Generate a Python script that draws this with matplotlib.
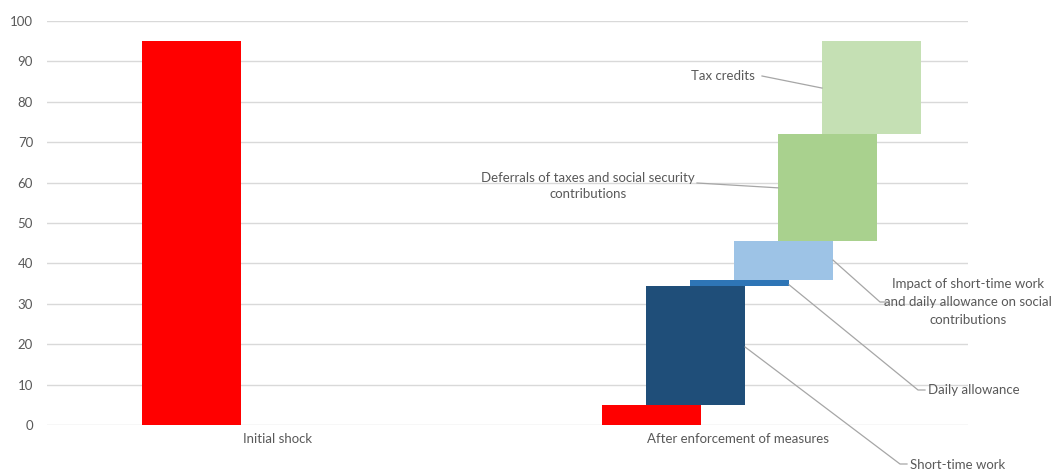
import matplotlib
matplotlib.use("Agg")
import matplotlib.pyplot as plt
import numpy as np

# Categories and waterfall components (% of initial shock)
categories = ["Initial shock", "After enforcement of measures"]
shock_values = [95, 5]                      # red series: initial shock / remaining impact
measure_names = [
    "Short-time work",
    "Daily allowance",
    "Impact of short-time work\nand daily allowance on social\ncontributions",
    "Deferrals of taxes and social security\ncontributions",
    "Tax credits",
]
measure_values = [29.3, 1.7, 9.5, 26.5, 23.0]
measure_colors = ["#1F4E79", "#2E75B6", "#9DC3E6", "#A9D18E", "#C5E0B4"]
yticks = list(range(0, 101, 10))

TEXT = "#595959"
plt.rcParams["font.family"] = ["Lato", "DejaVu Sans"]

W, H = 1056, 474
fig = plt.figure(figsize=(W / 100, H / 100), dpi=100)
ax = fig.add_axes([47 / W, 1 - 425 / H, (968 - 47) / W, (425 - 21) / H])

x = np.arange(len(categories))
width = 0.215
step = 0.0955
first = -0.187

# red series in both categories
ax.bar(x + first, shock_values, width, color="#FF0000", zorder=3)

# floating measure bars stacked on the remaining impact
bottoms = np.concatenate([[shock_values[1]], shock_values[1] + np.cumsum(measure_values)[:-1]])
bars = []
for i, (v, b, c) in enumerate(zip(measure_values, bottoms, measure_colors)):
    xc = x[1] + first + (i + 1) * step
    bars.append(ax.bar(xc, v, width, bottom=b, color=c, zorder=3)[0])

ax.set_xlim(-0.5, 1.5)
ax.set_ylim(0, 100)
ax.set_yticks(yticks)
ax.set_xticks(x)
ax.set_xticklabels(categories)
ax.tick_params(axis="both", length=0, colors=TEXT, labelsize=9.5)
ax.tick_params(axis="x", pad=6)
ax.tick_params(axis="y", pad=10)
ax.grid(axis="y", color="#D9D9D9", linewidth=1, zorder=0)
for s in ax.spines.values():
    s.set_visible(False)

# leader-line annotations
fig.canvas.draw()
to_fig = fig.transFigure.inverted()


def fpt(px, py):
    return (px / W, 1 - py / H)


def dpt(xd, yd):
    return tuple(to_fig.transform(ax.transData.transform((xd, yd))))


def leader(*pts):
    xs = [p[0] for p in pts]
    ys = [p[1] for p in pts]
    fig.add_artist(plt.Line2D(xs, ys, transform=fig.transFigure,
                              color="#A6A6A6", linewidth=0.9, zorder=5))


def edge(bar, side):
    return bar.get_x() if side == "left" else bar.get_x() + bar.get_width()


bst, bda, bimp, bdef, btax = bars
FS = 9.5

# Tax credits
fig.text(*fpt(755, 76), measure_names[4], ha="right", va="center", fontsize=FS, color=TEXT)
leader(fpt(762, 76), dpt(edge(btax, "left"), 83.4))

# Deferrals
fig.text(*fpt(588, 186), measure_names[3], ha="center", va="center", fontsize=FS,
         color=TEXT, multialignment="center", linespacing=1.45)
leader(fpt(697, 183), dpt(edge(bdef, "left"), 58.7))

# Impact on social contributions
fig.text(*fpt(968, 302), measure_names[2], ha="center", va="center", fontsize=FS,
         color=TEXT, multialignment="center", linespacing=1.65)
leader(dpt(edge(bimp, "right"), 40.8), fpt(880, 302), fpt(888, 302))

# Daily allowance
fig.text(*fpt(928, 390), measure_names[1], ha="left", va="center", fontsize=FS, color=TEXT)
leader(dpt(edge(bda, "right"), 34.7), fpt(918, 390), fpt(925, 390))

# Short-time work
fig.text(*fpt(910, 465), measure_names[0], ha="left", va="center", fontsize=FS, color=TEXT)
leader(dpt(edge(bst, "right"), 19.3), fpt(900, 464), fpt(907, 464))

fig.savefig("out.png", dpi=100, facecolor="white")
